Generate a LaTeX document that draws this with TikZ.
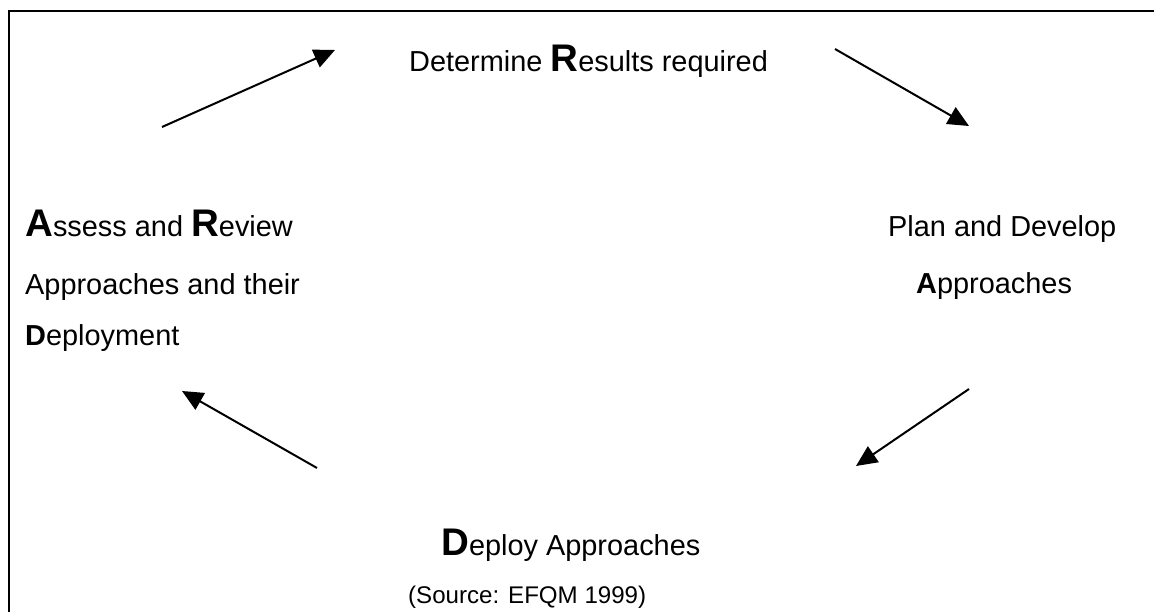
\documentclass[tikz,border=0pt]{standalone}
\usepackage{fontspec}
\setmainfont{Liberation Sans}
\usetikzlibrary{arrows.meta}
\newcommand{\bigL}[1]{{\fontsize{38.5}{40}\selectfont\bfseries #1}}
\newcommand{\boldL}[1]{{\bfseries #1}}
\tikzset{
  lbl/.style={anchor=base west, inner sep=0pt, font=\fontsize{28.9}{32}\selectfont},
  src/.style={anchor=base west, inner sep=0pt, font=\fontsize{24.1}{27}\selectfont},
  flow/.style={line width=2pt, -{Triangle[length=21pt,width=19pt]}},
  frame/.style={line width=2.6pt}
}
\begin{document}
\begin{tikzpicture}[x=1pt,y=-1pt]
\useasboundingbox (0,0) rectangle (1154,612);
\clip (0,0) rectangle (1154,612);
\coordinate (fb) at (9,630);
\coordinate (fc) at (9,11);
\coordinate (fr) at (1170,11);
\draw[frame] (fb) -- (fc) -- (fr);

\node[lbl] (results) at (409,72) {Determine \bigL{R}esults required};
\node[lbl] (assess) at (25,237) {\bigL{A}ssess and \bigL{R}eview};
\node[lbl] (approaches1) at (25,295) {Approaches and their};
\node[lbl] (deployment) at (25,345) {\boldL{D}eployment};
\node[lbl] (plan) at (888,237) {Plan and Develop};
\node[lbl] (approaches2) at (916,294) {\boldL{A}pproaches};
\node[lbl] (deploy) at (441,555) {\bigL{D}eploy Approaches};
\node[src] (source) at (408,603) {(Source: EFQM 1999)};

\coordinate (a1s) at (162,127);
\coordinate (a1e) at (335,50);
\coordinate (a2s) at (835,49);
\coordinate (a2e) at (969,126);
\coordinate (a3s) at (969,389);
\coordinate (a3e) at (856,466);
\coordinate (a4s) at (317,468);
\coordinate (a4e) at (182,391);
\draw[flow] (a1s) -- (a1e);
\draw[flow] (a2s) -- (a2e);
\draw[flow] (a3s) -- (a3e);
\draw[flow] (a4s) -- (a4e);
\end{tikzpicture}
\end{document}
